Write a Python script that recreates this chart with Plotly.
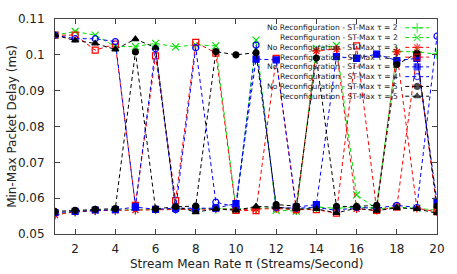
import plotly.graph_objects as go

x_rate = list(range(1, 21))

no_reconf_t2 = [0.0555, 0.0562, 0.0566, 0.0567, 0.0568, 0.0569, 0.0570, 0.0570, 0.0571, 0.0570,
                0.0572, 0.0573, 0.0567, 0.0575, 0.0572, 0.0575, 0.0572, 0.1010, 0.1008, 0.1002]
reconf_t2 = [0.1055, 0.1065, 0.1055, 0.1023, 0.1023, 0.1032, 0.1022, 0.1028, 0.1025, 0.0568,
             0.1041, 0.0566, 0.0564, 0.1018, 0.1026, 0.0609, 0.0570, 0.0575, 0.0572, 0.0566]
no_reconf_t3 = [0.0553, 0.0562, 0.0565, 0.0566, 0.0567, 0.0568, 0.0570, 0.0569, 0.0570, 0.0568,
                0.0570, 0.0571, 0.0568, 0.1011, 0.1016, 0.0570, 0.0566, 0.1008, 0.0572, 0.0562]
reconf_t3 = [0.1055, 0.1055, 0.1013, 0.1030, 0.0580, 0.0997, 0.0593, 0.1035, 0.1005, 0.0566,
             0.0565, 0.0990, 0.0568, 0.0568, 0.0558, 0.1025, 0.0566, 0.0575, 0.1000, 0.0568]
no_reconf_t4 = [0.0560, 0.0563, 0.0567, 0.0568, 0.0575, 0.0569, 0.0572, 0.0571, 0.0572, 0.0585,
                0.0988, 0.0986, 0.0575, 0.0582, 0.0995, 0.0990, 0.1002, 0.0984, 0.0990, 0.0591]
reconf_t4 = [0.1055, 0.1045, 0.1045, 0.1037, 0.0578, 0.1017, 0.0568, 0.1020, 0.0589, 0.0575,
             0.1027, 0.0574, 0.0572, 0.0574, 0.0566, 0.0574, 0.0572, 0.0580, 0.0574, 0.1052]
no_reconf_t5 = [0.0563, 0.0566, 0.0569, 0.0571, 0.1008, 0.0570, 0.0576, 0.0578, 0.1009, 0.1000,
                0.1006, 0.0582, 0.0578, 0.0991, 0.0577, 0.0577, 0.0580, 0.0973, 0.1004, 0.0578]
reconf_t5 = [0.1055, 0.1040, 0.1032, 0.1015, 0.1044, 0.1020, 0.0577, 0.0561, 0.0570, 0.0566,
             0.0577, 0.0575, 0.0570, 0.0570, 0.0559, 0.0572, 0.0565, 0.0573, 0.0570, 0.0558]

series_names = [
    "No Reconfiguration - ST-Max τ = 2",
    "Reconfiguration - ST-Max τ = 2",
    "No Reconfiguration - ST-Max τ = 3",
    "Reconfiguration - ST-Max τ = 3",
    "No Reconfiguration - ST-Max τ = 4",
    "Reconfiguration - ST-Max τ = 4",
    "No Reconfiguration - ST-Max τ = 5",
    "Reconfiguration - ST-Max τ = 5",
]
series_values = [no_reconf_t2, reconf_t2, no_reconf_t3, reconf_t3,
                 no_reconf_t4, reconf_t4, no_reconf_t5, reconf_t5]
colors = ["#00e000", "#00e000", "#ff0000", "#ff0000", "#0000ff", "#0000ff", "#000000", "#000000"]
symbols = ["cross-thin-open", "x-thin-open", "asterisk-open", "square-open",
           "square", "circle-open", "circle", "triangle-up"]
sizes = [7, 7, 7, 6, 6, 6, 6, 6]

x_ticks = list(range(2, 21, 2))
y_ticks = [0.05, 0.06, 0.07, 0.08, 0.09, 0.10, 0.11]
y_tick_text = ["0.05", "0.06", "0.07", "0.08", "0.09", "0.1", "0.11"]

FONT = "DejaVu Sans"
fig = go.Figure()

for name, vals, col, sym, sz in zip(series_names, series_values, colors, symbols, sizes):
    fig.add_trace(go.Scatter(
        x=x_rate, y=vals, mode="lines+markers", name=name, showlegend=False,
        line=dict(color=col, width=1, dash="4px,3px"),
        marker=dict(symbol=sym, size=sz, color=col, line=dict(color=col, width=1.2)),
    ))

# gnuplot-style key: text right-aligned, sample on the right (pixel-coordinate overlay axes)
L, R, T, B = 55, 440, 14, 234
for i, (name, col, sym, sz) in enumerate(zip(series_names, colors, symbols, sizes)):
    row_y = 23 + 10 * i
    fig.add_trace(go.Scatter(
        x=[408, 420, 432], y=[row_y] * 3, xaxis="x2", yaxis="y2",
        mode="lines+markers", showlegend=False, hoverinfo="skip",
        line=dict(color=col, width=1, dash="4px,3px"),
        marker=dict(symbol=sym, size=[0, sz, 0], color=col, line=dict(color=col, width=1.2)),
    ))
    fig.add_annotation(x=403, y=row_y, xref="x2", yref="y2", text=name, showarrow=False,
                       xanchor="right", yanchor="middle",
                       font=dict(family=FONT, size=7.6, color="#222"))

fig.add_annotation(x=0.5, y=(B - 265) / (B - T), xref="paper", yref="paper",
                   text="Stream Mean Rate π (Streams/Second)", showarrow=False,
                   xanchor="center", yanchor="middle", font=dict(family=FONT, size=12, color="#222"))
fig.add_annotation(x=(11 - L) / (R - L), y=0.5, xref="paper", yref="paper",
                   text="Min-Max Packet Delay (ms)", showarrow=False, textangle=-90,
                   xanchor="center", yanchor="middle", font=dict(family=FONT, size=12, color="#222"))

axis_common = dict(showline=True, mirror="ticks", linecolor="#444", linewidth=1,
                   ticks="inside", ticklen=5, tickcolor="#444", showgrid=False, zeroline=False,
                   tickfont=dict(family=FONT, size=12, color="#222"))

fig.update_layout(
    width=457, height=274, autosize=False,
    margin=dict(l=L, r=457 - R, t=T, b=274 - B, pad=0),
    plot_bgcolor="white", paper_bgcolor="white",
    xaxis=dict(range=[1, 20], tickvals=x_ticks, ticklabelstandoff=4, **axis_common),
    yaxis=dict(range=[0.05, 0.11], tickvals=y_ticks, ticktext=y_tick_text,
               ticklabelstandoff=7, **axis_common),
    xaxis2=dict(range=[L, R], overlaying="x", visible=False, fixedrange=True),
    yaxis2=dict(range=[B, T], overlaying="y", visible=False, fixedrange=True),
)

fig.write_html("out.html", config={"displayModeBar": False},
               post_script="document.body.style.margin='0';")
